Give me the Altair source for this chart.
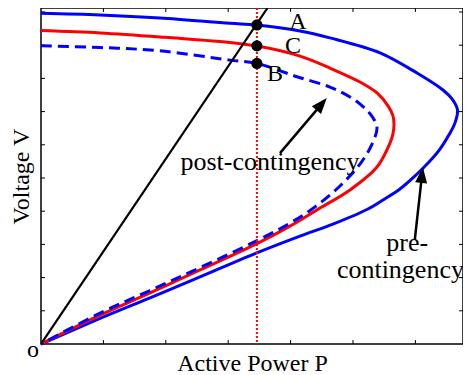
import math
import altair as alt
import pandas as pd

# ---------------- data ----------------
# pre-contingency PV curve (blue solid): upper branch -> nose -> lower branch
pre_P = [0.0, 0.946, 1.907, 3.029, 3.446, 4.151, 4.631, 5.433, 6.026, 6.442, 6.587, 6.675,
         6.635, 6.538, 6.394, 6.218, 6.010, 5.753, 5.481, 5.224, 4.679, 4.151, 3.478,
         2.548, 1.747, 0.946, 0.0]
pre_V = [9.96, 9.91, 9.82, 9.66, 9.61, 9.43, 9.22, 8.77, 8.16, 7.65, 7.38, 7.05,
         6.66, 6.30, 5.87, 5.48, 5.09, 4.67, 4.34, 4.05, 3.61, 3.25, 2.76,
         2.02, 1.39, 0.77, 0.0]

# intermediate curve (red solid)
mid_P = [0.0, 0.946, 1.907, 3.029, 3.446, 4.151, 4.631, 5.112, 5.385, 5.561, 5.641, 5.657,
         5.641, 5.593, 5.385, 4.952, 4.423, 3.990, 3.478, 2.548, 1.747, 0.946, 0.0]
mid_V = [9.44, 9.37, 9.25, 9.08, 8.98, 8.67, 8.31, 7.89, 7.56, 7.17, 6.87, 6.60,
         6.33, 6.05, 5.33, 4.64, 4.04, 3.55, 3.04, 2.23, 1.54, 0.87, 0.0]

# post-contingency PV curve (blue dashed)
post_P = [0.0, 0.946, 1.907, 3.029, 3.462, 4.103, 4.631, 4.952, 5.160, 5.321, 5.385,
          5.305, 5.112, 4.792, 4.391, 3.990, 3.478, 2.548, 1.747, 0.946, 0.0]
post_V = [8.98, 8.93, 8.83, 8.55, 8.45, 8.05, 7.74, 7.44, 7.15, 6.81, 6.51,
          6.02, 5.42, 4.76, 4.13, 3.64, 3.13, 2.30, 1.61, 0.93, 0.0]

# load line through origin and the operating point A
load_P = [0.0, 3.63]
load_V = [0.0, 10.12]

# operating points on the vertical (dotted) line
op_P = 3.46
pt_names = ["A", "C", "B"]
pt_V = [9.61, 8.98, 8.45]

# annotations
post_label = "post-contingency"
post_label_pos = (3.67, 5.24)
pre_label_lines = ["pre-", "contingency"]
pre_label_pos = [(5.87, 2.80), (5.76, 2.00)]
# arrows: (tail P, tail V, tip P, tip V)
arrows = [(3.83, 5.75, 4.58, 7.41), (5.99, 3.13, 6.12, 5.33)]

x_ticks = [1, 2, 3, 4, 5, 6]
y_ticks = [1, 2, 3, 4, 5, 6, 7, 8, 9, 10]

# ---------------- layout / style ----------------
W, H = 422, 336
XMAX, YMAX = 6.763, 10.12
FONT = "Liberation Serif"
xs = alt.Scale(domain=[0, XMAX], nice=False, zero=False)
ys = alt.Scale(domain=[0, YMAX], nice=False, zero=False)


def X(field, **kw):
    return alt.X(field, type="quantitative", scale=xs, title="Active Power P", **kw)


def Y(field, **kw):
    return alt.Y(field, type="quantitative", scale=ys, title="Voltage V", **kw)


def curve(P, V):
    return pd.DataFrame({"P": P, "V": V, "i": list(range(len(P)))})


layers = []

# inward ticks on all four sides
xt = pd.DataFrame({"t": x_ticks})
yt = pd.DataFrame({"t": y_ticks})
tick_style = dict(color="black", strokeWidth=1)
layers.append(alt.Chart(xt).mark_rule(**tick_style).encode(
    x=X("t"), y=alt.value(H), y2=alt.value(H - 4)))
layers.append(alt.Chart(xt).mark_rule(**tick_style).encode(
    x=X("t"), y=alt.value(0), y2=alt.value(4)))
layers.append(alt.Chart(yt).mark_rule(**tick_style).encode(
    y=Y("t"), x=alt.value(0), x2=alt.value(4)))
layers.append(alt.Chart(yt).mark_rule(**tick_style).encode(
    y=Y("t"), x=alt.value(W), x2=alt.value(W - 4)))

# curves
layers.append(alt.Chart(curve(pre_P, pre_V)).mark_line(
    color="#0000ff", strokeWidth=3, interpolate="catmull-rom").encode(
    x=X("P"), y=Y("V"), order="i:Q"))
layers.append(alt.Chart(curve(mid_P, mid_V)).mark_line(
    color="#ff0000", strokeWidth=3, interpolate="catmull-rom").encode(
    x=X("P"), y=Y("V"), order="i:Q"))
layers.append(alt.Chart(curve(post_P, post_V)).mark_line(
    color="#0000ff", strokeWidth=3, strokeDash=[11, 6], interpolate="catmull-rom").encode(
    x=X("P"), y=Y("V"), order="i:Q"))

# red dotted vertical
layers.append(alt.Chart(pd.DataFrame({"P": [op_P]})).mark_rule(
    color="#ff0000", strokeWidth=2, strokeDash=[2, 2]).encode(
    x=X("P"), y=alt.value(0), y2=alt.value(H)))

# black load line
layers.append(alt.Chart(curve(load_P, load_V)).mark_line(
    color="black", strokeWidth=2.2, clip=True).encode(x=X("P"), y=Y("V"), order="i:Q"))

# arrows
kx, ky = W / XMAX, H / YMAX
head_len = 10.0
for tx, tv, hx, hv in arrows:
    dxp, dyp = (hx - tx) * kx, (hv - tv) * ky
    L = math.hypot(dxp, dyp)
    ux, uy = dxp / L, dyp / L
    cx, cv = hx - ux * head_len / kx, hv - uy * head_len / ky
    ang = math.degrees(math.atan2(dxp, dyp)) % 360
    layers.append(alt.Chart(pd.DataFrame({"P": [tx], "V": [tv], "P2": [cx], "V2": [cv]})).mark_rule(
        color="black", strokeWidth=2.5).encode(
        x=X("P"), y=Y("V"), x2="P2:Q", y2="V2:Q"))
    layers.append(alt.Chart(pd.DataFrame({"P": [cx], "V": [cv]})).mark_point(
        shape="M0,-1L0.6,0.6L-0.6,0.6Z", filled=True, size=400, angle=ang,
        color="black", opacity=1, strokeWidth=0).encode(x=X("P"), y=Y("V")))

# operating points
pts = pd.DataFrame({"P": [op_P] * 3, "V": pt_V, "name": pt_names})
layers.append(alt.Chart(pts).mark_circle(size=125, color="black", opacity=1).encode(
    x=X("P"), y=Y("V")))

label_style = dict(font=FONT, fontSize=24, color="black", baseline="alphabetic")
offsets = {"A": (41, 4), "C": (36, 7), "B": (18, 18)}
for name in pt_names:
    layers.append(alt.Chart(pts[pts["name"] == name]).mark_text(
        align="center", dx=offsets[name][0], dy=offsets[name][1], **label_style).encode(
        x=X("P"), y=Y("V"), text="name:N"))

ann_style = dict(font=FONT, fontSize=26, color="black", baseline="alphabetic")
ann = pd.DataFrame({
    "P": [post_label_pos[0]] + [p[0] for p in pre_label_pos],
    "V": [post_label_pos[1]] + [p[1] for p in pre_label_pos],
    "t": [post_label] + pre_label_lines,
})
layers.append(alt.Chart(ann).mark_text(align="center", clip=False, **ann_style).encode(
    x=X("P"), y=Y("V"), text="t:N"))

# origin label
layers.append(alt.Chart(pd.DataFrame({"P": [0.0], "V": [0.0], "t": ["o"]})).mark_text(
    align="center", dx=-8, dy=13, font=FONT, fontSize=24, color="black",
    baseline="alphabetic").encode(x=X("P"), y=Y("V"), text="t:N"))

chart = alt.layer(*layers).properties(
    width=W, height=H,
    autosize=alt.AutoSizeParams(type="none"),
    padding={"left": 33, "top": 0, "right": 0, "bottom": 31},
).configure_view(
    stroke="black", strokeWidth=1.5
).configure_axis(
    labels=False, ticks=False, domain=False, grid=False,
    titleFont=FONT, titleFontSize=24, titleFontWeight="normal", titleColor="black"
).configure_axisX(titlePadding=7).configure_axisY(titlePadding=8)

chart.save("out.html", embed_options={"renderer": "svg", "actions": False})
